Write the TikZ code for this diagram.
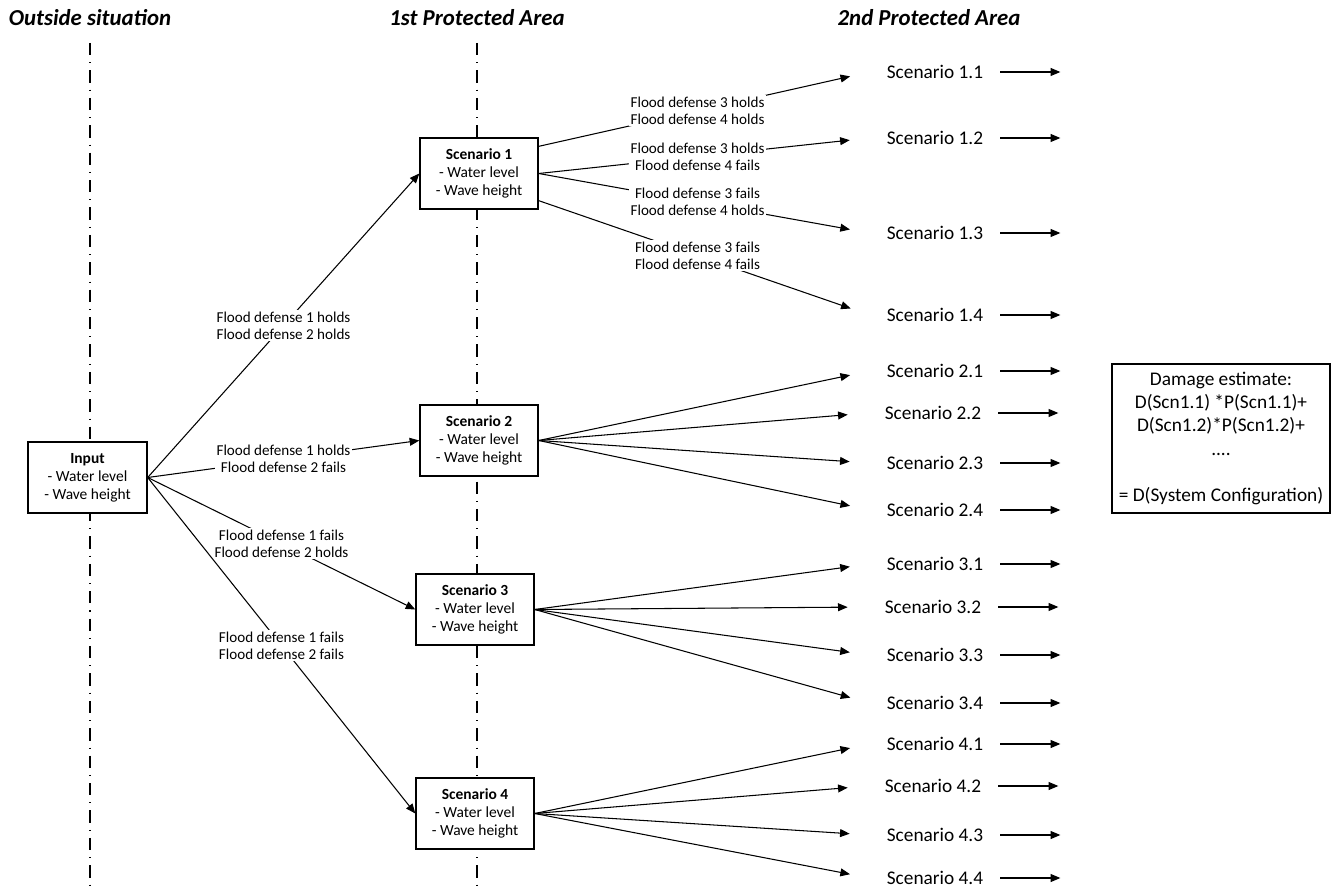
\documentclass[tikz,border=0pt]{standalone}
\usepackage{fontspec}
\setmainfont{Carlito}
\usetikzlibrary{arrows.meta,positioning,calc}

\begin{document}
\begin{tikzpicture}[
    x=0.02cm, y=-0.02cm,
    box/.style={rectangle, draw, fill=white, line width=0.8pt, minimum width=2.36cm, minimum height=1.42cm, align=center, inner sep=1pt, font=\fontsize{8.8}{10.2}\selectfont},
    lbl/.style={fill=white, align=center, inner sep=1pt, font=\fontsize{8.6}{9.8}\selectfont},
    scn/.style={minimum width=2.6cm, inner sep=0pt, font=\fontsize{11}{13}\selectfont},
    head/.style={font=\fontsize{13}{15}\selectfont\bfseries\itshape},
    flow/.style={line width=0.6pt, -{Triangle[length=5.5pt,width=4.5pt]}},
    fan/.style={flow, shorten >=0.4cm},
    divider/.style={line width=0.6pt, dash pattern=on 7pt off 4pt on 0.6pt off 4pt}
]
    \useasboundingbox (0,0) rectangle (1339,888);

    % column headers
    \node[head] (hout) at (90,18) {Outside situation};
    \node[head] (hfirst) at (477,18) {1st Protected Area};
    \node[head] (hsecond) at (929,18) {2nd Protected Area};

    % dash-dot dividers
    \coordinate (otop) at (90,43);
    \coordinate (obot) at (90,888);
    \coordinate (ftop) at (477,43);
    \coordinate (fbot) at (477,888);
    \draw[divider] (otop) -- (obot);
    \draw[divider] (ftop) -- (fbot);

    % boxes
    \node[box, minimum width=2.38cm] (inp) at (87.5,477.5) {\textbf{Input}\\- Water level\\- Wave height};
    \node[box] (s1) at (479,173.5) {\textbf{Scenario 1}\\- Water level\\- Wave height};
    \node[box] (s2) at (479,440.5) {\textbf{Scenario 2}\\- Water level\\- Wave height};
    \node[box] (s3) at (475,609.5) {\textbf{Scenario 3}\\- Water level\\- Wave height};
    \node[box] (s4) at (475,813.5) {\textbf{Scenario 4}\\- Water level\\- Wave height};

    \node[box, minimum width=4.36cm, minimum height=2.98cm, font=\fontsize{11}{13.3}\selectfont] (dmg) at (1221,438.5)
        {Damage estimate:\\D(Scn1.1) *P(Scn1.1)+\\D(Scn1.2)*P(Scn1.2)+\\....\\[13.3pt]= D(System Configuration)};

    % second area scenarios
    \node[scn] (sc11) at (935,72) {Scenario 1.1};
    \node[scn] (sc12) at (935,138) {Scenario 1.2};
    \node[scn] (sc13) at (935,233) {Scenario 1.3};
    \node[scn] (sc14) at (935,315) {Scenario 1.4};
    \node[scn] (sc21) at (935,371) {Scenario 2.1};
    \node[scn] (sc22) at (933,413) {Scenario 2.2};
    \node[scn] (sc23) at (935,463) {Scenario 2.3};
    \node[scn] (sc24) at (935,510) {Scenario 2.4};
    \node[scn] (sc31) at (935,564) {Scenario 3.1};
    \node[scn] (sc32) at (933,607) {Scenario 3.2};
    \node[scn] (sc33) at (935,655) {Scenario 3.3};
    \node[scn] (sc34) at (935,703) {Scenario 3.4};
    \node[scn] (sc41) at (935,744) {Scenario 4.1};
    \node[scn] (sc42) at (933,786) {Scenario 4.2};
    \node[scn] (sc43) at (935,835) {Scenario 4.3};
    \node[scn] (sc44) at (935,878) {Scenario 4.4};

    % outgoing arrows
    \coordinate[right=1.2cm of sc11.east] (o11);
    \coordinate[right=1.2cm of sc12.east] (o12);
    \coordinate[right=1.2cm of sc13.east] (o13);
    \coordinate[right=1.2cm of sc14.east] (o14);
    \coordinate[right=1.2cm of sc21.east] (o21);
    \coordinate[right=1.2cm of sc22.east] (o22);
    \coordinate[right=1.2cm of sc23.east] (o23);
    \coordinate[right=1.2cm of sc24.east] (o24);
    \coordinate[right=1.2cm of sc31.east] (o31);
    \coordinate[right=1.2cm of sc32.east] (o32);
    \coordinate[right=1.2cm of sc33.east] (o33);
    \coordinate[right=1.2cm of sc34.east] (o34);
    \coordinate[right=1.2cm of sc41.east] (o41);
    \coordinate[right=1.2cm of sc42.east] (o42);
    \coordinate[right=1.2cm of sc43.east] (o43);
    \coordinate[right=1.2cm of sc44.east] (o44);
    \draw[flow] (sc11.east) -- (o11);
    \draw[flow] (sc12.east) -- (o12);
    \draw[flow] (sc13.east) -- (o13);
    \draw[flow] (sc14.east) -- (o14);
    \draw[flow] (sc21.east) -- (o21);
    \draw[flow] (sc22.east) -- (o22);
    \draw[flow] (sc23.east) -- (o23);
    \draw[flow] (sc24.east) -- (o24);
    \draw[flow] (sc31.east) -- (o31);
    \draw[flow] (sc32.east) -- (o32);
    \draw[flow] (sc33.east) -- (o33);
    \draw[flow] (sc34.east) -- (o34);
    \draw[flow] (sc41.east) -- (o41);
    \draw[flow] (sc42.east) -- (o42);
    \draw[flow] (sc43.east) -- (o43);
    \draw[flow] (sc44.east) -- (o44);

    % input to first area
    \draw[flow] (inp.east) -- node[lbl, midway] {Flood defense 1 holds\\Flood defense 2 holds} (s1.west);
    \draw[flow] (inp.east) -- node[lbl, midway] {Flood defense 1 holds\\Flood defense 2 fails} (s2.west);
    \draw[flow] (inp.east) -- node[lbl, midway] {Flood defense 1 fails\\Flood defense 2 holds} (s3.west);
    \draw[flow] (inp.east) -- node[lbl, midway] {Flood defense 1 fails\\Flood defense 2 fails} (s4.west);

    % first area to second area
    \draw[fan] ($(s1.north east)!0.125!(s1.south east)$) -- node[lbl, pos=0.48] {Flood defense 3 holds\\Flood defense 4 holds} (sc11.west);
    \draw[fan] (s1.east) -- node[lbl, pos=0.48] {Flood defense 3 holds\\Flood defense 4 fails} (sc12.west);
    \draw[fan] (s1.east) -- node[lbl, pos=0.48] {Flood defense 3 fails\\Flood defense 4 holds} (sc13.west);
    \draw[fan] ($(s1.north east)!0.875!(s1.south east)$) -- node[lbl, pos=0.48] {Flood defense 3 fails\\Flood defense 4 fails} (sc14.west);

    \draw[fan] (s2.east) -- (sc21.west);
    \draw[fan] (s2.east) -- (sc22.west);
    \draw[fan] (s2.east) -- (sc23.west);
    \draw[fan] (s2.east) -- (sc24.west);

    \draw[fan] (s3.east) -- (sc31.west);
    \draw[fan] (s3.east) -- (sc32.west);
    \draw[fan] (s3.east) -- (sc33.west);
    \draw[fan] (s3.east) -- (sc34.west);

    \draw[fan] (s4.east) -- (sc41.west);
    \draw[fan] (s4.east) -- (sc42.west);
    \draw[fan] (s4.east) -- (sc43.west);
    \draw[fan] (s4.east) -- (sc44.west);
\end{tikzpicture}
\end{document}
